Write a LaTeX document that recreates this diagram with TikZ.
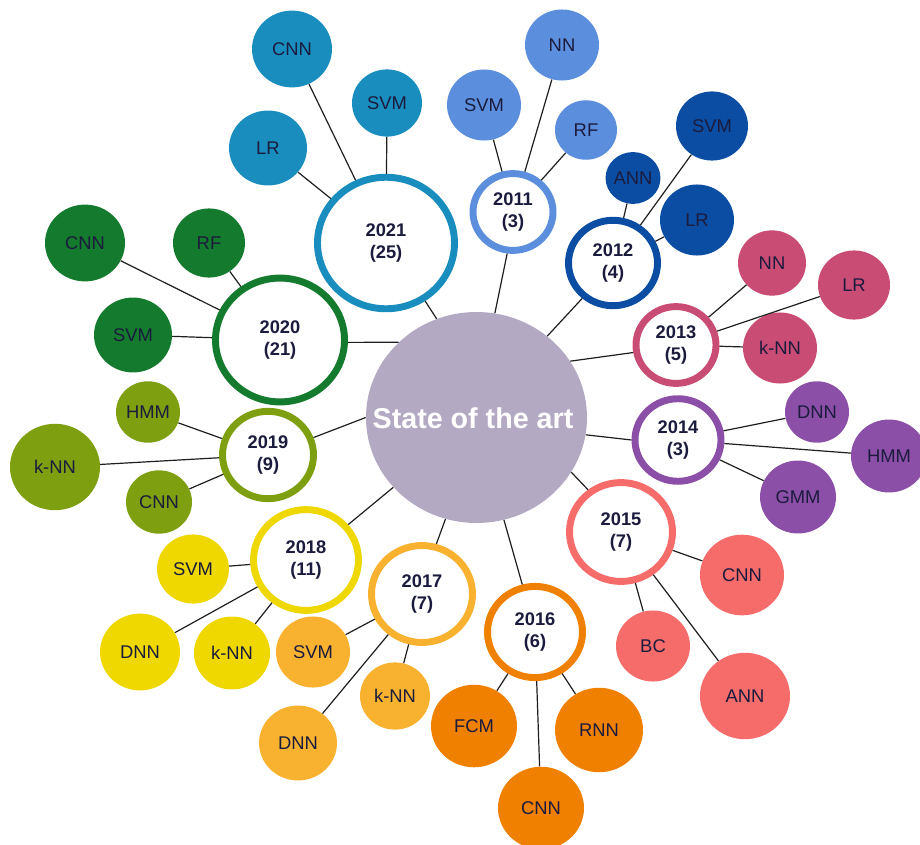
\documentclass[tikz,border=0pt]{standalone}
\usepackage{fontspec}
\setmainfont{Liberation Sans}
\usetikzlibrary{shapes.geometric}

\definecolor{hubc}{HTML}{B3A9C3}
\definecolor{ink}{HTML}{1B1B3D}
\definecolor{linec}{HTML}{1E1E1E}
\definecolor{cA}{HTML}{1A8DBF}% 2021
\definecolor{cB}{HTML}{5B8FDD}% 2011
\definecolor{cC}{HTML}{0A4DA2}% 2012
\definecolor{cD}{HTML}{C94C75}% 2013
\definecolor{cE}{HTML}{8C4FA7}% 2014
\definecolor{cF}{HTML}{F56C6A}% 2015
\definecolor{cG}{HTML}{F08000}% 2016
\definecolor{cH}{HTML}{F8B22F}% 2017
\definecolor{cI}{HTML}{EFD700}% 2018
\definecolor{cJ}{HTML}{7D9F10}% 2019
\definecolor{cK}{HTML}{147A2D}% 2020

\tikzset{
  rad/.style={minimum width=#1*1.5pt, minimum height=#1*1.44pt},
  hub/.style={ellipse, fill=hubc, inner sep=0pt, minimum width=221*0.75pt,
    minimum height=211*0.75pt},
  hubtext/.style={inner sep=0pt, text=white,
    font=\fontsize{21.5}{24}\selectfont\bfseries},
  leaf/.style={ellipse, fill=#1, inner sep=0pt, text=ink,
    font=\fontsize{13.8}{15}\selectfont},
  ring/.style={ellipse, draw=#1, line width=5.2pt, fill=white, inner sep=0pt,
    align=center, text=ink, font=\fontsize{13.7}{16.5}\selectfont\bfseries},
  link/.style={draw=linec, line width=0.9pt},
}

\begin{document}
\begin{tikzpicture}[x=0.75pt, y=-0.75pt]
\useasboundingbox (0,0) rectangle (920,845);
\clip (0,0) rectangle (920,845);

% centre
\node[hub] (hub) at (476.5,417.5) {};
\node[hubtext] (hubt) at (473,418) {State of the art};

% year rings
\node[ring=cA, rad=68.5] (y21) at (386,243) {2021\\(25)};
\node[ring=cB, rad=40]   (y11) at (513,212) {2011\\(3)};
\node[ring=cC, rad=44.5] (y12) at (613,263) {2012\\(4)};
\node[ring=cD, rad=40]   (y13) at (676,345) {2013\\(5)};
\node[ring=cE, rad=43]   (y14) at (678,440) {2014\\(3)};
\node[ring=cF, rad=51.5] (y15) at (621,532) {2015\\(7)};
\node[ring=cG, rad=47.5] (y16) at (535,632) {2016\\(6)};
\node[ring=cH, rad=50.5] (y17) at (422,594) {2017\\(7)};
\node[ring=cI, rad=52.5] (y18) at (306,560) {2018\\(11)};
\node[ring=cJ, rad=45.5] (y19) at (268,455) {2019\\(9)};
\node[ring=cK, rad=64.5] (y20) at (280,340) {2020\\(21)};

% methods per year
\node[leaf=cA, rad=40] (a1) at (292,49)  {CNN};
\node[leaf=cA, rad=35] (a2) at (387,103) {SVM};
\node[leaf=cA, rad=39] (a3) at (268,148) {LR};

\node[leaf=cB, rad=37] (b1) at (562,45)  {NN};
\node[leaf=cB, rad=37] (b2) at (484,105) {SVM};
\node[leaf=cB, rad=31] (b3) at (586,130) {RF};

\node[leaf=cC, rad=27] (c1) at (633,178) {ANN};
\node[leaf=cC, rad=36] (c2) at (712,126) {SVM};
\node[leaf=cC, rad=37] (c3) at (697,220) {LR};

\node[leaf=cD, rad=34] (d1) at (772,263) {NN};
\node[leaf=cD, rad=36] (d2) at (854,285) {LR};
\node[leaf=cD, rad=37] (d3) at (780,348) {k-NN};

\node[leaf=cE, rad=32] (e1) at (817,412) {DNN};
\node[leaf=cE, rad=38] (e2) at (889,456) {HMM};
\node[leaf=cE, rad=38] (e3) at (798,497) {GMM};

\node[leaf=cF, rad=42] (f1) at (742,575) {CNN};
\node[leaf=cF, rad=37] (f2) at (653,646) {BC};
\node[leaf=cF, rad=45] (f3) at (745,696) {ANN};

\node[leaf=cG, rad=43] (g1) at (474,726) {FCM};
\node[leaf=cG, rad=44] (g2) at (599,730) {RNN};
\node[leaf=cG, rad=43] (g3) at (541,808) {CNN};

\node[leaf=cH, rad=37] (h1) at (313,652) {SVM};
\node[leaf=cH, rad=35] (h2) at (395,696) {k-NN};
\node[leaf=cH, rad=39] (h3) at (298,743) {DNN};

\node[leaf=cI, rad=36] (i1) at (193,569) {SVM};
\node[leaf=cI, rad=40] (i2) at (140,652) {DNN};
\node[leaf=cI, rad=38] (i3) at (232,653) {k-NN};

\node[leaf=cJ, rad=32] (j1) at (148,412) {HMM};
\node[leaf=cJ, rad=45] (j2) at (55,467)  {k-NN};
\node[leaf=cJ, rad=33] (j3) at (159,502) {CNN};

\node[leaf=cK, rad=40] (k1) at (85,243)  {CNN};
\node[leaf=cK, rad=36] (k2) at (209,243) {RF};
\node[leaf=cK, rad=39] (k3) at (133,335) {SVM};

% centre to year rings
\draw[link] (hub.112) -- (y21.-56);
\draw[link] (hub.80)  -- (y11.-98);
\draw[link] (hub.49)  -- (y12.-131);
\draw[link] (hub.31)  -- (y13.190);
\draw[link] (hub.-9)  -- (y14.180);
\draw[link] (hub.-30) -- (y15.128);
\draw[link] (hub.-75) -- (y16.105);
\draw[link] (hub.-107) -- (y17.74);
\draw[link] (hub.-140) -- (y18.40);
\draw[link] (hub.180) -- (y19.21);
\draw[link] (hub.136) -- (y20.-2);

% year rings to methods
\foreach \y/\p in {y21/a, y11/b, y12/c, y13/d, y14/e, y15/f, y16/g,
                   y17/h, y18/i, y19/j, y20/k}
  \foreach \n in {1,2,3}
    \draw[link] (\y) -- (\p\n);
\end{tikzpicture}
\end{document}
